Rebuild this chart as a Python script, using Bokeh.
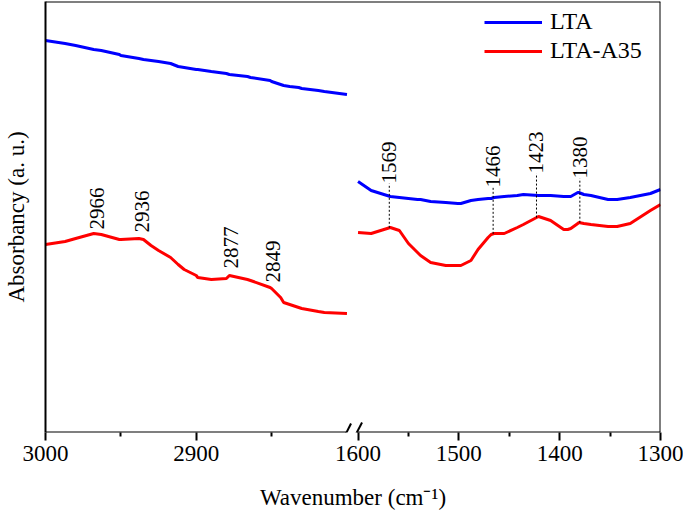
import numpy as np
from bokeh.plotting import figure
from bokeh.models import (Range1d, FixedTicker, Span, Legend, LegendItem, Arrow)
from bokeh.core.properties import value
from bokeh.embed import file_html
from bokeh.resources import INLINE

FONT = "Liberation Serif"

# ---------------- data (absorbance in arbitrary units) ----------------
# high-wavenumber region 3000-2800 cm-1
hi_wn = [3000, 2987, 2980, 2968, 2963, 2951, 2950, 2938, 2935, 2930, 2925, 2917,
         2912, 2908, 2900, 2899, 2890, 2880, 2878, 2866, 2864, 2851, 2850, 2844,
         2842, 2838, 2832, 2830, 2819, 2815, 2800]
lta_hi = [392, 389, 387, 383, 382, 378, 377, 374, 373, 372, 371, 369,
          366, 365, 363, 363, 361, 359, 358, 356, 355, 352, 351, 348,
          347, 346, 345, 344, 342, 341, 338]
a35_hi = [188, 191, 194, 199, 198, 193, 193, 194, 193, 187, 182, 175,
          168, 163, 157, 155, 153, 154, 157, 153, 152, 145, 144, 135,
          130, 128, 125, 124, 121, 120, 119]

# mid-wavenumber region 1600-1300 cm-1
lo_wn = [1600, 1587, 1568, 1559, 1550, 1541, 1538, 1528, 1513, 1501, 1498, 1488,
         1481, 1471, 1468, 1465, 1455, 1442, 1436, 1421, 1409, 1396, 1392, 1389,
         1382, 1381, 1376, 1369, 1352, 1343, 1330, 1310, 1300]
lta_lo = [251, 242, 236, 235, 234, 233, 233, 231, 230, 229, 229, 232,
          233, 234, 234, 235, 236, 237, 238, 237, 237, 236, 236, 236,
          240, 240, 238, 237, 233, 233, 235, 239, 243]
a35_lo = [200, 199, 205, 202, 189, 180, 177, 170, 167, 167, 167, 172,
          183, 195, 198, 199, 199, 205, 208, 216, 212, 203, 203, 204,
          209, 210, 209, 208, 206, 206, 209, 222, 228]

series_names = ["LTA", "LTA-A35"]

# x-axis ticks
hi_ticks = [3000, 2900]
hi_minor = [2950, 2850]
lo_ticks = [1600, 1500, 1400, 1300]
lo_minor = [1550, 1450, 1350]

# peak annotations
hi_peaks = [2966, 2936, 2877, 2849]
hi_label_y = [203, 200, 164, 150]
lo_peaks = [1569, 1466, 1423, 1380]
lo_label_y = [249, 245, 259, 254]

# ---------------- broken axis: two x scales sharing one frame ----------------
HI_RANGE = (3000, 2592)   # 3000..2800 occupies the left part of the frame
LO_RANGE = (1910, 1300)   # 1600..1300 occupies the right part of the frame
Y_TOP = 431
BLUE = "#0000FF"
RED = "#FF0000"


def lo_to_hi(t):
    frac = (LO_RANGE[0] - t) / (LO_RANGE[0] - LO_RANGE[1])
    return round(HI_RANGE[0] - frac * (HI_RANGE[0] - HI_RANGE[1]), 3)


p = figure(width=683, height=515, x_range=Range1d(*HI_RANGE), y_range=Range1d(0, Y_TOP),
           output_backend="svg", toolbar_location=None,
           min_border_left=44, min_border_right=23, min_border_top=1, min_border_bottom=83)
p.extra_x_ranges = {"lo": Range1d(*LO_RANGE)}
p.grid.visible = False
p.outline_line_color = None

# bottom axis (ticks/labels for both segments)
ax = p.xaxis[0]
lo_pos = [lo_to_hi(t) for t in lo_ticks]
ax.ticker = FixedTicker(ticks=hi_ticks + lo_pos, minor_ticks=hi_minor + [lo_to_hi(t) for t in lo_minor])
ax.major_label_overrides = {pos: str(t) for pos, t in zip(lo_pos, lo_ticks)}
ax.axis_line_color = None
ax.major_tick_line_width = 2
ax.major_tick_line_color = "black"
ax.major_tick_out = 8
ax.major_tick_in = 0
ax.minor_tick_line_width = 2
ax.minor_tick_line_color = "black"
ax.minor_tick_out = 4
ax.minor_tick_in = 0
ax.major_label_text_font = FONT
ax.major_label_text_font_size = "23px"
ax.major_label_text_color = "black"
ax.major_label_standoff = 5
ax.axis_label = "Wavenumber (cm\u207b\u00b9)"
ax.axis_label_text_font = FONT
ax.axis_label_text_font_size = "23px"
ax.axis_label_text_font_style = "normal"
ax.axis_label_text_color = "black"
ax.axis_label_standoff = 21

# left axis: just a line with the title
ay = p.yaxis[0]
ay.ticker = FixedTicker(ticks=[])
ay.axis_line_width = 2
ay.axis_line_color = "black"
ay.major_tick_out = 0
ay.minor_tick_out = 0
ay.axis_label = "Absorbancy (a. u.)"
ay.axis_label_text_font = FONT
ay.axis_label_text_font_size = "23px"
ay.axis_label_text_font_style = "normal"
ay.axis_label_text_color = "black"
ay.axis_label_standoff = 17

# frame lines: top, right, and the two pieces of the broken bottom axis
p.add_layout(Span(location=Y_TOP, dimension="width", line_color="black", line_width=2))
p.add_layout(Span(location=1300, dimension="height", line_color="black", line_width=2,
                  x_range_name="lo"))
p.add_layout(Arrow(x_start=3000, y_start=0, x_end=2800.5, y_end=0, start=None, end=None,
                   line_color="black", line_width=2))
p.add_layout(Arrow(x_start=1601, y_start=0, x_end=1300, y_end=0, start=None, end=None,
                   line_color="black", line_width=2, x_range_name="lo"))
# break marks //
p.add_layout(Arrow(x_start=2803.3, y_start=-9, x_end=2797.3, y_end=9, start=None, end=None,
                   line_color="black", line_width=2))
p.add_layout(Arrow(x_start=2796.6, y_start=-9, x_end=2790.0, y_end=10, start=None, end=None,
                   line_color="black", line_width=2))

# curves
p.line(hi_wn, lta_hi, line_color=BLUE, line_width=3)
p.line(hi_wn, a35_hi, line_color=RED, line_width=3)
r_lta = p.line(lo_wn, lta_lo, line_color=BLUE, line_width=3, x_range_name="lo")
r_a35 = p.line(lo_wn, a35_lo, line_color=RED, line_width=3, x_range_name="lo")

# peak labels
p.text(x=hi_peaks, y=hi_label_y, text=[str(v) for v in hi_peaks], angle=np.pi / 2,
       text_align="left", text_baseline="middle", text_font=value(FONT),
       text_font_size="21px", text_color="black")
dash_bottom = np.interp(lo_peaks, lo_wn[::-1], a35_lo[::-1])
p.segment(x0=lo_peaks, y0=dash_bottom, x1=lo_peaks, y1=lo_label_y,
          line_color="black", line_width=1, line_dash="2 2", x_range_name="lo")
p.text(x=lo_peaks, y=lo_label_y, text=[str(v) for v in lo_peaks], angle=np.pi / 2,
       text_align="left", text_baseline="middle", text_font=value(FONT),
       text_font_size="21px", text_color="black", x_range_name="lo")

legend = Legend(items=[LegendItem(label=series_names[0], renderers=[r_lta]),
                       LegendItem(label=series_names[1], renderers=[r_a35])],
                location=(439, 368), padding=0, margin=0, spacing=2,
                glyph_width=58, glyph_height=20, label_height=20, label_standoff=8,
                label_text_font=FONT, label_text_font_size="24px", label_text_color="black",
                border_line_color=None, background_fill_alpha=0)
p.add_layout(legend)

open("out.html", "w").write(file_html(p, INLINE))
